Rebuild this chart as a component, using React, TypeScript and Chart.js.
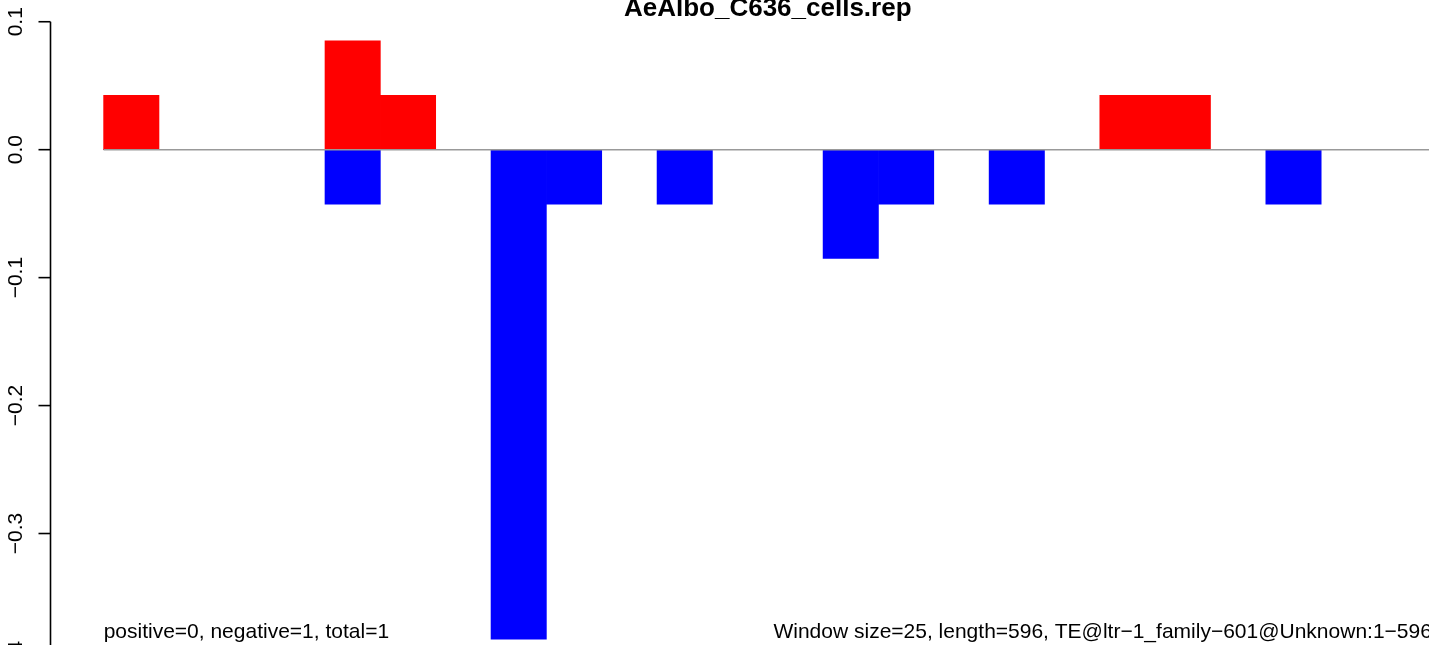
import React, { useEffect, useRef } from "react";
import { Chart, registerables } from "chart.js";

Chart.register(...registerables);

// ---- data ----
const windowIndex: number[] = [
  1, 2, 3, 4, 5, 6, 7, 8, 9, 10, 11, 12, 13, 14, 15, 16, 17, 18, 19, 20, 21, 22, 23, 24,
];
const positiveValues: number[] = [
  0.0425, 0, 0, 0, 0.085, 0.0425, 0, 0, 0, 0, 0, 0, 0, 0, 0, 0, 0, 0, 0.0425, 0.0425, 0, 0, 0, 0,
];
const negativeValues: number[] = [
  0, 0, 0, 0, -0.0425, 0, 0, -0.3825, -0.0425, 0, -0.0425, 0, 0, -0.085, -0.0425, 0, -0.0425, 0, 0, 0, 0,
  -0.0425, 0, 0,
];
const yTicks: number[] = [0.1, 0.0, -0.1, -0.2, -0.3, -0.4];
const titleText = "AeAlbo_C636_cells.rep";
const leftNote = "positive=0, negative=1, total=1";
const rightNote = "Window size=25, length=596, TE@ltr\u22121_family\u2212601@Unknown:1\u2212596";

const FONT = '"Liberation Sans", Arial, Helvetica, sans-serif';

const fmtTick = (v: number) => {
  const s = Math.abs(v).toFixed(1);
  return v < 0 ? "\u2212" + s : s;
};

export default function App() {
  const ref = useRef<HTMLCanvasElement | null>(null);

  useEffect(() => {
    document.body.style.margin = "0";
    document.body.style.overflow = "hidden";
    const canvas = ref.current!;
    const nBars = windowIndex.length;
    const allVals = [...positiveValues, ...negativeValues];
    const vmin = Math.min(...allVals);
    const vmax = Math.max(...allVals);
    const yr = vmax - vmin;
    const xPad = nBars * 0.04;

    const overlay = {
      id: "rOverlay",
      afterDatasetsDraw(chart: any) {
        const ctx = chart.ctx;
        const xs = chart.scales.x;
        const ys = chart.scales.y;
        const ca = chart.chartArea;
        ctx.save();
        // zero line
        ctx.strokeStyle = "#999999";
        ctx.lineWidth = 1.6;
        ctx.beginPath();
        ctx.moveTo(xs.getPixelForValue(0), ys.getPixelForValue(0));
        ctx.lineTo(xs.getPixelForValue(nBars), ys.getPixelForValue(0));
        ctx.stroke();

        // y axis
        const ax = ca.left;
        ctx.strokeStyle = "#000";
        ctx.lineWidth = 1.6;
        ctx.beginPath();
        ctx.moveTo(ax, ys.getPixelForValue(yTicks[0]));
        ctx.lineTo(ax, ys.getPixelForValue(yTicks[yTicks.length - 1]));
        ctx.stroke();
        ctx.fillStyle = "#000";
        ctx.font = `21px ${FONT}`;
        ctx.textAlign = "center";
        ctx.textBaseline = "alphabetic";
        for (const t of yTicks) {
          const py = ys.getPixelForValue(t);
          ctx.beginPath();
          ctx.moveTo(ax - 12, py);
          ctx.lineTo(ax, py);
          ctx.stroke();
          ctx.save();
          ctx.translate(22, py);
          ctx.rotate(-Math.PI / 2);
          ctx.fillText(fmtTick(t), 0, 0);
          ctx.restore();
        }

        // notes
        const by = ys.getPixelForValue(vmin) - 1;
        ctx.textAlign = "left";
        ctx.fillText(leftNote, xs.getPixelForValue(0), by);
        ctx.textAlign = "right";
        ctx.fillText(rightNote, xs.getPixelForValue(nBars), by);

        // title
        ctx.font = `bold 26px ${FONT}`;
        ctx.textAlign = "center";
        ctx.fillText(titleText, (ca.left + ca.right) / 2, 16);
        ctx.restore();
      },
    };

    const chart = new Chart(canvas, {
      type: "bar",
      data: {
        datasets: [
          {
            label: "positive",
            data: positiveValues.map((v, i) => ({ x: windowIndex[i] - 0.5, y: v })),
            backgroundColor: "#ff0000",
            borderWidth: 0,
            barPercentage: 1,
            categoryPercentage: 1,
          },
          {
            label: "negative",
            data: negativeValues.map((v, i) => ({ x: windowIndex[i] - 0.5, y: v })),
            backgroundColor: "#0000ff",
            borderWidth: 0,
            barPercentage: 1,
            categoryPercentage: 1,
          },
        ],
      },
      options: {
        animation: false,
        responsive: false,
        maintainAspectRatio: false,
        grouped: false,
        layout: { padding: { left: 50.5, top: 17, right: 1540 - 1485, bottom: 700 - 663 } },
        plugins: { legend: { display: false }, tooltip: { enabled: false }, title: { display: false } },
        scales: {
          x: {
            type: "linear",
            display: false,
            offset: false,
            min: -xPad,
            max: nBars + xPad,
          },
          y: {
            display: false,
            min: vmin - yr * 0.04,
            max: vmax + yr * 0.04,
          },
        },
      } as any,
      plugins: [overlay],
    });
    return () => chart.destroy();
  }, []);

  return (
    <div style={{ width: 1429, height: 645, overflow: "hidden", position: "relative" }}>
      <canvas ref={ref} width={1540} height={700} style={{ width: 1540, height: 700, display: "block" }} />
    </div>
  );
}
